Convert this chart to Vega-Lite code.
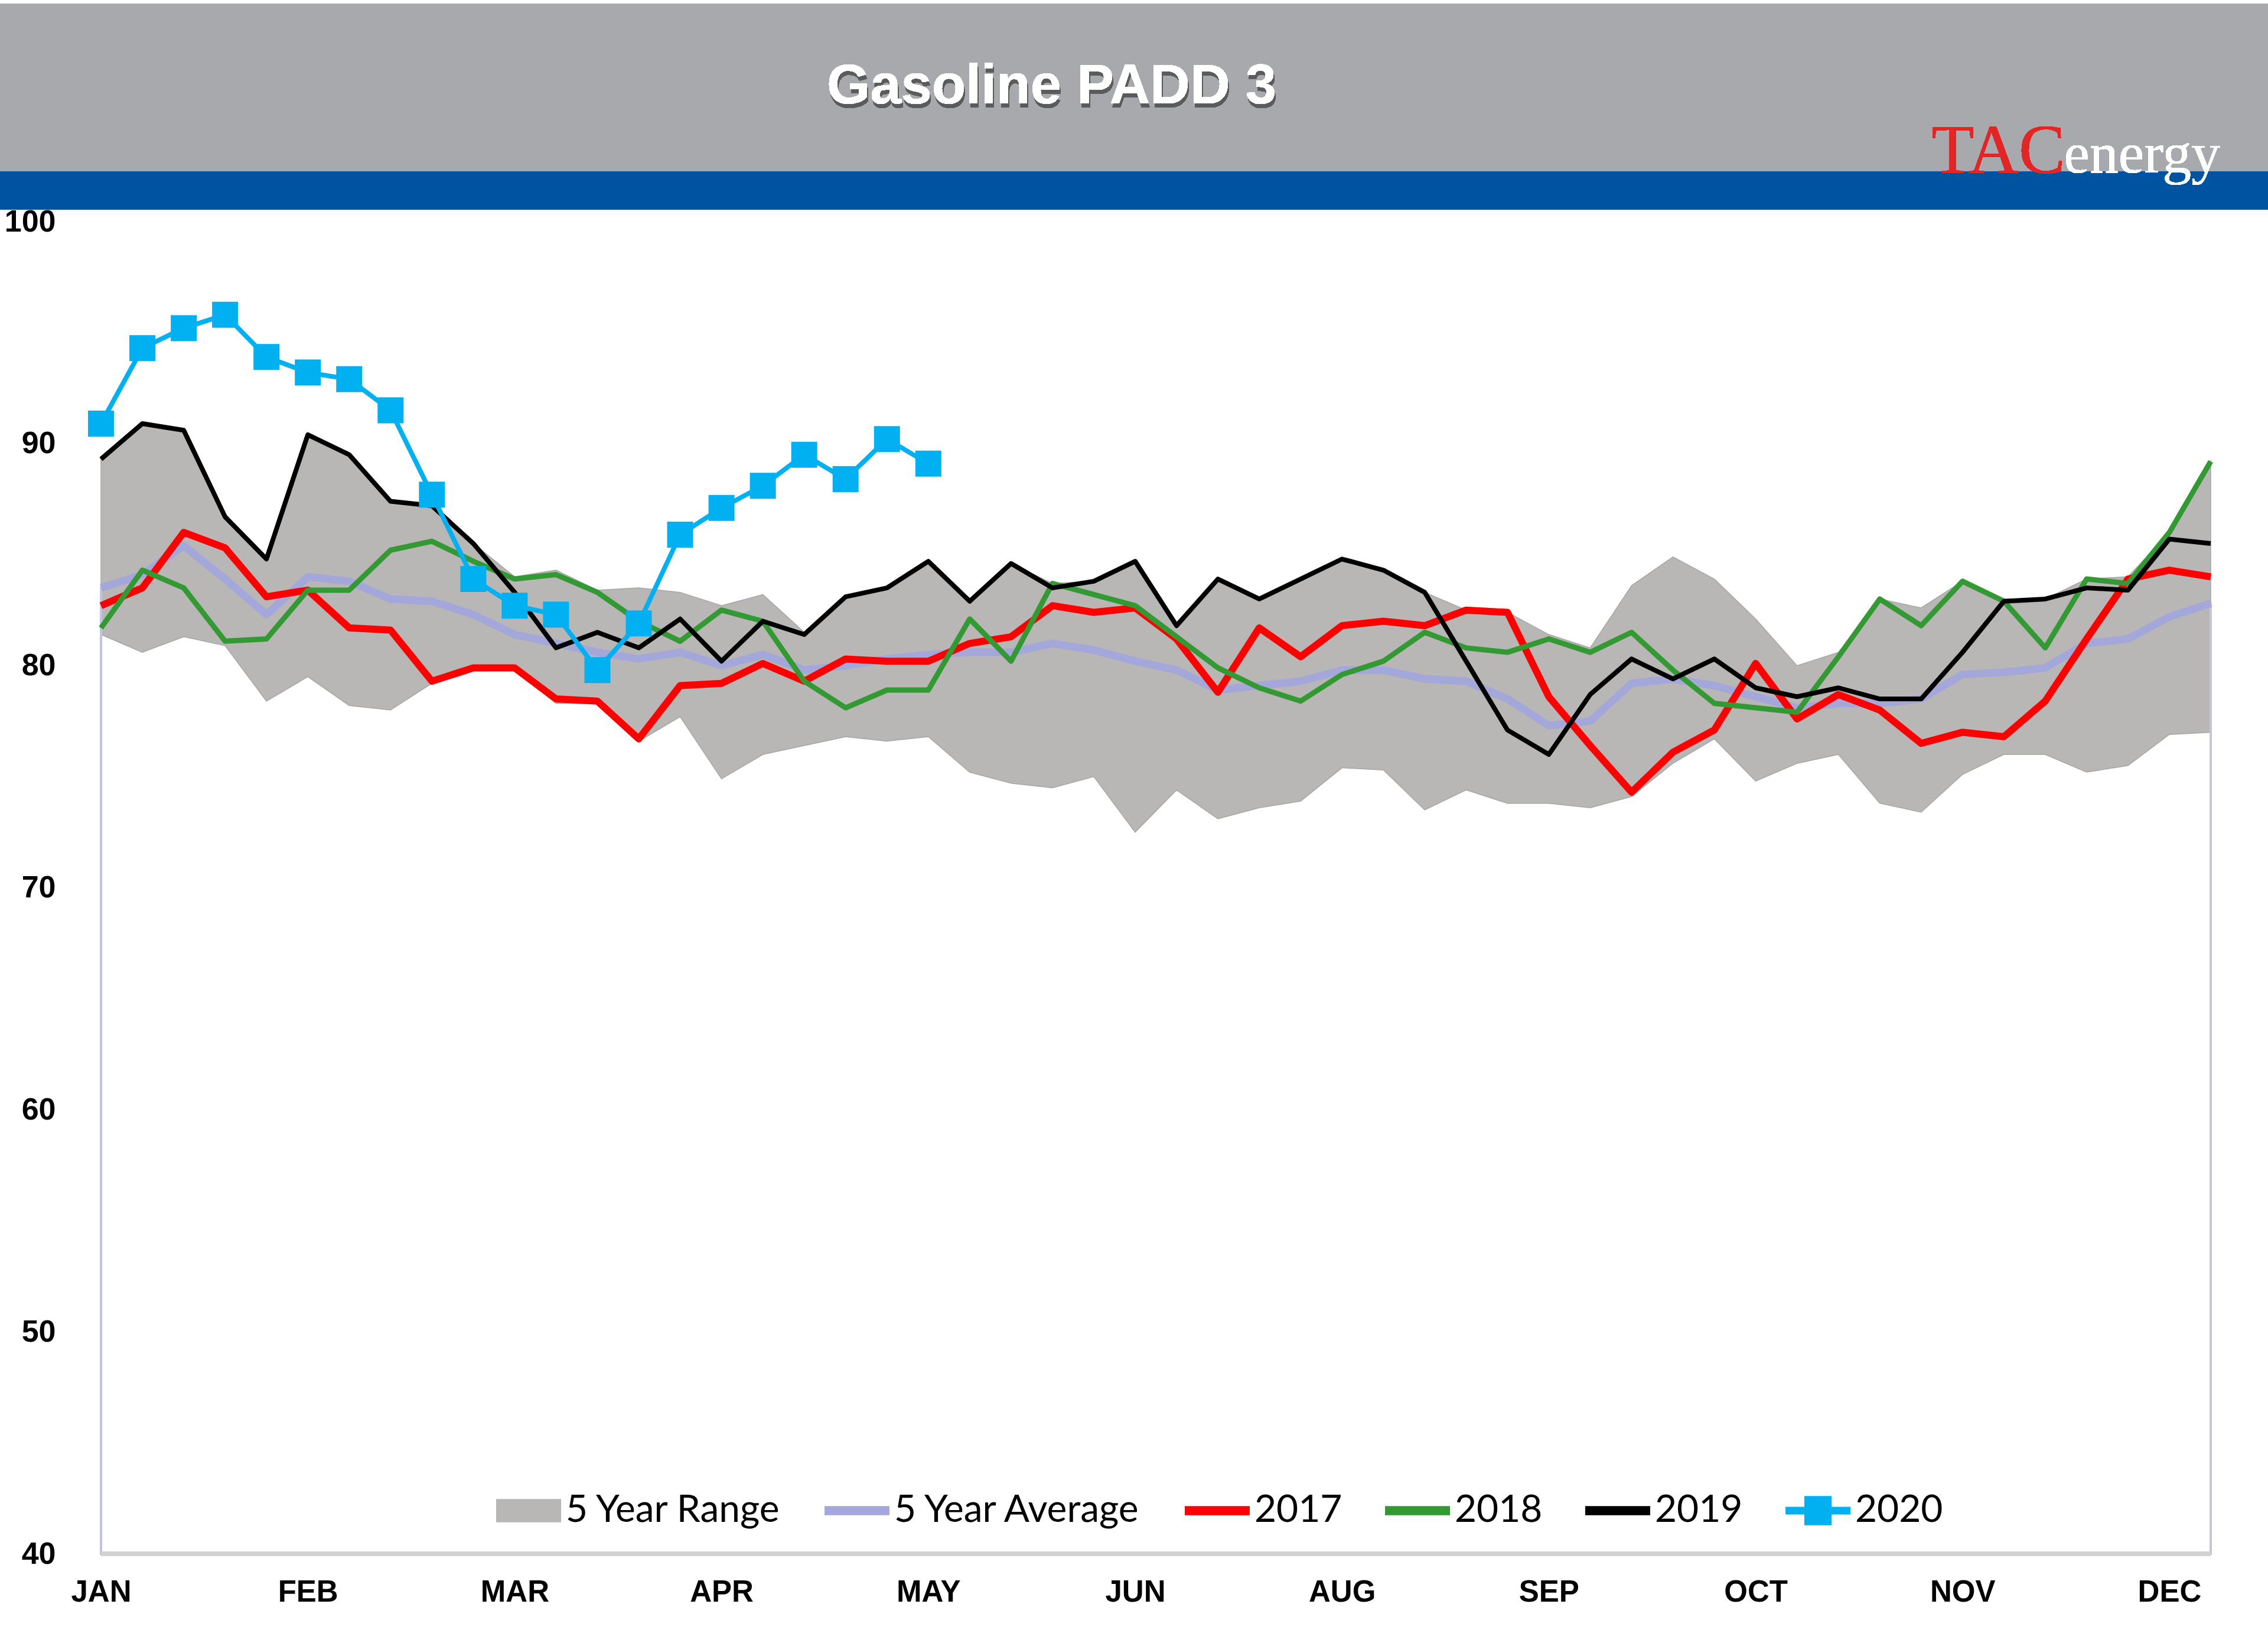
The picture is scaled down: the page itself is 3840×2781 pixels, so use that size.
{
  "$schema": "https://vega.github.io/schema/vega-lite/v6.json",
  "autosize": {"type": "none"},
  "width": 3572,
  "height": 2255,
  "padding": {"left": 171, "top": 375, "right": 97, "bottom": 151},
  "background": "white",
  "config": {"view": {"stroke": null}},
  "data": {"values": [
    {"week": 1, "low": 81.4, "high": 89.3, "avg": 83.5, "y2017": 82.7, "y2018": 81.7, "y2019": 89.3, "y2020": 90.9},
    {"week": 2, "low": 80.6, "high": 90.9, "avg": 84.1, "y2017": 83.5, "y2018": 84.3, "y2019": 90.9, "y2020": 94.3},
    {"week": 3, "low": 81.3, "high": 90.6, "avg": 85.4, "y2017": 86.0, "y2018": 83.5, "y2019": 90.6, "y2020": 95.2},
    {"week": 4, "low": 80.9, "high": 86.7, "avg": 83.9, "y2017": 85.3, "y2018": 81.1, "y2019": 86.7, "y2020": 95.8},
    {"week": 5, "low": 78.4, "high": 84.8, "avg": 82.3, "y2017": 83.1, "y2018": 81.2, "y2019": 84.8, "y2020": 93.9},
    {"week": 6, "low": 79.5, "high": 90.4, "avg": 84.0, "y2017": 83.4, "y2018": 83.4, "y2019": 90.4, "y2020": 93.2},
    {"week": 7, "low": 78.2, "high": 89.5, "avg": 83.8, "y2017": 81.7, "y2018": 83.4, "y2019": 89.5, "y2020": 92.9},
    {"week": 8, "low": 78.0, "high": 87.4, "avg": 83.0, "y2017": 81.6, "y2018": 85.2, "y2019": 87.4, "y2020": 91.5},
    {"week": 9, "low": 79.2, "high": 87.2, "avg": 82.9, "y2017": 79.3, "y2018": 85.6, "y2019": 87.2, "y2020": 87.7},
    {"week": 10, "low": 79.8, "high": 85.5, "avg": 82.3, "y2017": 79.9, "y2018": 84.7, "y2019": 85.5, "y2020": 83.9},
    {"week": 11, "low": 79.8, "high": 84.0, "avg": 81.4, "y2017": 79.9, "y2018": 83.9, "y2019": 83.3, "y2020": 82.7},
    {"week": 12, "low": 78.3, "high": 84.3, "avg": 81.0, "y2017": 78.5, "y2018": 84.1, "y2019": 80.8, "y2020": 82.3},
    {"week": 13, "low": 78.3, "high": 83.4, "avg": 80.6, "y2017": 78.4, "y2018": 83.3, "y2019": 81.5, "y2020": 79.8},
    {"week": 14, "low": 76.6, "high": 83.5, "avg": 80.3, "y2017": 76.7, "y2018": 82.0, "y2019": 80.8, "y2020": 81.9},
    {"week": 15, "low": 77.7, "high": 83.3, "avg": 80.6, "y2017": 79.1, "y2018": 81.1, "y2019": 82.1, "y2020": 85.9},
    {"week": 16, "low": 74.9, "high": 82.7, "avg": 80.0, "y2017": 79.2, "y2018": 82.5, "y2019": 80.2, "y2020": 87.1},
    {"week": 17, "low": 76.0, "high": 83.2, "avg": 80.5, "y2017": 80.1, "y2018": 82.0, "y2019": 82.0, "y2020": 88.1},
    {"week": 18, "low": 76.4, "high": 81.5, "avg": 79.8, "y2017": 79.3, "y2018": 79.3, "y2019": 81.4, "y2020": 89.5},
    {"week": 19, "low": 76.8, "high": 83.1, "avg": 80.0, "y2017": 80.3, "y2018": 78.1, "y2019": 83.1, "y2020": 88.4},
    {"week": 20, "low": 76.6, "high": 83.5, "avg": 80.3, "y2017": 80.2, "y2018": 78.9, "y2019": 83.5, "y2020": 90.2},
    {"week": 21, "low": 76.8, "high": 84.7, "avg": 80.5, "y2017": 80.2, "y2018": 78.9, "y2019": 84.7, "y2020": 89.1},
    {"week": 22, "low": 75.2, "high": 82.9, "avg": 80.6, "y2017": 81.0, "y2018": 82.1, "y2019": 82.9, "y2020": null},
    {"week": 23, "low": 74.7, "high": 84.6, "avg": 80.6, "y2017": 81.3, "y2018": 80.2, "y2019": 84.6, "y2020": null},
    {"week": 24, "low": 74.5, "high": 83.7, "avg": 81.0, "y2017": 82.7, "y2018": 83.7, "y2019": 83.5, "y2020": null},
    {"week": 25, "low": 75.0, "high": 83.8, "avg": 80.7, "y2017": 82.4, "y2018": 83.2, "y2019": 83.8, "y2020": null},
    {"week": 26, "low": 72.5, "high": 84.7, "avg": 80.2, "y2017": 82.6, "y2018": 82.7, "y2019": 84.7, "y2020": null},
    {"week": 27, "low": 74.4, "high": 81.8, "avg": 79.8, "y2017": 81.2, "y2018": 81.3, "y2019": 81.8, "y2020": null},
    {"week": 28, "low": 73.1, "high": 83.9, "avg": 78.9, "y2017": 78.8, "y2018": 79.9, "y2019": 83.9, "y2020": null},
    {"week": 29, "low": 73.6, "high": 83.0, "avg": 79.1, "y2017": 81.7, "y2018": 79.0, "y2019": 83.0, "y2020": null},
    {"week": 30, "low": 73.9, "high": 83.9, "avg": 79.3, "y2017": 80.4, "y2018": 78.4, "y2019": 83.9, "y2020": null},
    {"week": 31, "low": 75.4, "high": 84.8, "avg": 79.8, "y2017": 81.8, "y2018": 79.6, "y2019": 84.8, "y2020": null},
    {"week": 32, "low": 75.3, "high": 84.3, "avg": 79.8, "y2017": 82.0, "y2018": 80.2, "y2019": 84.3, "y2020": null},
    {"week": 33, "low": 73.5, "high": 83.3, "avg": 79.4, "y2017": 81.8, "y2018": 81.5, "y2019": 83.3, "y2020": null},
    {"week": 34, "low": 74.4, "high": 82.5, "avg": 79.3, "y2017": 82.5, "y2018": 80.8, "y2019": 80.2, "y2020": null},
    {"week": 35, "low": 73.8, "high": 82.4, "avg": 78.5, "y2017": 82.4, "y2018": 80.6, "y2019": 77.1, "y2020": null},
    {"week": 36, "low": 73.8, "high": 81.4, "avg": 77.3, "y2017": 78.6, "y2018": 81.2, "y2019": 76.0, "y2020": null},
    {"week": 37, "low": 73.6, "high": 80.8, "avg": 77.5, "y2017": 76.4, "y2018": 80.6, "y2019": 78.7, "y2020": null},
    {"week": 38, "low": 74.1, "high": 83.6, "avg": 79.2, "y2017": 74.3, "y2018": 81.5, "y2019": 80.3, "y2020": null},
    {"week": 39, "low": 75.6, "high": 84.9, "avg": 79.4, "y2017": 76.1, "y2018": 79.8, "y2019": 79.4, "y2020": null},
    {"week": 40, "low": 76.7, "high": 83.9, "avg": 79.1, "y2017": 77.1, "y2018": 78.3, "y2019": 80.3, "y2020": null},
    {"week": 41, "low": 74.8, "high": 82.1, "avg": 78.6, "y2017": 80.1, "y2018": 78.1, "y2019": 79.0, "y2020": null},
    {"week": 42, "low": 75.6, "high": 80.0, "avg": 78.1, "y2017": 77.6, "y2018": 77.9, "y2019": 78.6, "y2020": null},
    {"week": 43, "low": 76.0, "high": 80.6, "avg": 78.3, "y2017": 78.7, "y2018": 80.4, "y2019": 79.0, "y2020": null},
    {"week": 44, "low": 73.8, "high": 83.0, "avg": 78.3, "y2017": 78.0, "y2018": 83.0, "y2019": 78.5, "y2020": null},
    {"week": 45, "low": 73.4, "high": 82.6, "avg": 78.5, "y2017": 76.5, "y2018": 81.8, "y2019": 78.5, "y2020": null},
    {"week": 46, "low": 75.1, "high": 83.8, "avg": 79.6, "y2017": 77.0, "y2018": 83.8, "y2019": 80.6, "y2020": null},
    {"week": 47, "low": 76.0, "high": 83.0, "avg": 79.7, "y2017": 76.8, "y2018": 82.9, "y2019": 82.9, "y2020": null},
    {"week": 48, "low": 76.0, "high": 83.0, "avg": 79.9, "y2017": 78.4, "y2018": 80.8, "y2019": 83.0, "y2020": null},
    {"week": 49, "low": 75.2, "high": 83.9, "avg": 81.0, "y2017": 81.2, "y2018": 83.9, "y2019": 83.5, "y2020": null},
    {"week": 50, "low": 75.5, "high": 84.0, "avg": 81.2, "y2017": 83.9, "y2018": 83.7, "y2019": 83.4, "y2020": null},
    {"week": 51, "low": 76.9, "high": 86.0, "avg": 82.2, "y2017": 84.3, "y2018": 86.0, "y2019": 85.7, "y2020": null},
    {"week": 52, "low": 77.0, "high": 89.2, "avg": 82.8, "y2017": 84.0, "y2018": 89.2, "y2019": 85.5, "y2020": null}
  ]},
  "encoding": {
    "x": {
      "field": "week", "type": "quantitative",
      "scale": {"domain": [1, 52], "nice": false, "zero": false},
      "axis": {
        "title": null, "grid": false, "ticks": false, "domain": false,
        "values": [1, 6, 11, 16, 21, 26, 31, 36, 41, 46, 51],
        "labelExpr": "['JAN','FEB','MAR','APR','MAY','JUN','AUG','SEP','OCT','NOV','DEC'][round((datum.value-1)/5)]",
        "labelFont": "Liberation Sans", "labelFontSize": 51, "labelFontWeight": "bold", "labelColor": "#000000",
        "labelPadding": 40, "labelOverlap": false, "labelFlush": false, "labelBaseline": "top"
      }
    },
    "y": {
      "type": "quantitative",
      "scale": {"domain": [40, 100], "nice": false, "zero": false},
      "axis": {
        "title": null, "grid": false, "ticks": false, "domain": false,
        "values": [40, 50, 60, 70, 80, 90, 100],
        "labelFont": "Liberation Sans", "labelFontSize": 52, "labelFontWeight": "bold", "labelColor": "#000000",
        "labelPadding": 77, "labelOverlap": false, "labelFlush": false
      }
    }
  },
  "layer": [
    {
      "mark": {"type": "rect", "color": "#A7A9AC"},
      "encoding": {
        "x": {"datum": -1.5}, "x2": {"datum": 53.5},
        "y": {"datum": 109.82}, "y2": {"datum": 102.26}
      }
    },
    {
      "mark": {"type": "rect", "color": "#0053A0"},
      "encoding": {
        "x": {"datum": -1.5}, "x2": {"datum": 53.5},
        "y": {"datum": 102.26}, "y2": {"datum": 100.53}
      }
    },
    {
      "mark": {"type": "text", "font": "Liberation Sans", "fontSize": 94, "fontWeight": "bold", "letterSpacing": 7, "color": "#5a5b5d", "opacity": 0.4, "align": "center", "baseline": "middle", "dx": 2, "dy": 7},
      "encoding": {"x": {"datum": 23.98}, "y": {"datum": 106.07}, "text": {"value": "Gasoline PADD 3"}}
    },
    {
      "mark": {"type": "text", "font": "Liberation Sans", "fontSize": 94, "fontWeight": "bold", "letterSpacing": 7, "color": "#FFFFFF", "align": "center", "baseline": "middle"},
      "encoding": {"x": {"datum": 23.98}, "y": {"datum": 106.07}, "text": {"value": "Gasoline PADD 3"}}
    },
    {
      "mark": {"type": "text", "font": "Liberation Serif", "fontSize": 118, "color": "#E32526", "align": "left", "baseline": "alphabetic", "letterSpacing": -14},
      "encoding": {"x": {"datum": 45.25}, "y": {"datum": 102.18}, "text": {"value": "TAC"}}
    },
    {
      "mark": {"type": "text", "font": "Liberation Serif", "fontSize": 98, "color": "#FFFFFF", "align": "left", "baseline": "alphabetic", "letterSpacing": -3},
      "encoding": {"x": {"datum": 48.45}, "y": {"datum": 102.21}, "text": {"value": "energy"}}
    },
    {
      "mark": {"type": "area", "color": "#B9B6B6", "stroke": "#A8A5A5", "strokeWidth": 1.5},
      "encoding": {"y": {"field": "high"}, "y2": {"field": "low"}}
    },
    {
      "mark": {"type": "area", "fill": "transparent", "stroke": "#C3C4E2", "strokeWidth": 4},
      "encoding": {"y": {"field": "avg"}, "y2": {"datum": 40}}
    },
    {
      "mark": {"type": "rule", "color": "#D2D2D2", "strokeWidth": 7},
      "encoding": {"x": {"datum": 1}, "x2": {"datum": 52}, "y": {"datum": 40}}
    },
    {
      "mark": {"type": "line", "strokeWidth": 13, "strokeJoin": "round", "color": "#A4A7DA"},
      "encoding": {"y": {"field": "avg"}}
    },
    {
      "mark": {"type": "line", "strokeWidth": 12, "strokeJoin": "round", "color": "#FF0000"},
      "encoding": {"y": {"field": "y2017"}}
    },
    {
      "mark": {"type": "line", "strokeWidth": 9, "strokeJoin": "round", "color": "#339933"},
      "encoding": {"y": {"field": "y2018"}}
    },
    {
      "mark": {"type": "line", "strokeWidth": 8, "strokeJoin": "round", "color": "#000000"},
      "encoding": {"y": {"field": "y2019"}}
    },
    {
      "mark": {"type": "line", "strokeWidth": 8, "strokeJoin": "round", "color": "#00B0F0"},
      "encoding": {"y": {"field": "y2020"}}
    },
    {
      "mark": {"type": "point", "shape": "square", "filled": true, "size": 1936, "opacity": 1, "color": "#00B0F0"},
      "encoding": {"y": {"field": "y2020"}}
    },
    {
      "transform": [{"filter": "false"}],
      "mark": {"type": "point", "filled": true, "opacity": 1},
      "encoding": {
        "y": {"field": "avg"},
        "color": {
          "datum": "5 Year Range", "type": "nominal",
          "scale": {
            "domain": ["5 Year Range", "5 Year Average", "2017", "2018", "2019", "2020"],
            "range": ["#B9B6B6", "#A4A7DA", "#FF0000", "#339933", "#000000", "#00B0F0"]
          },
          "legend": {
            "title": null, "orient": "none", "direction": "horizontal",
            "legendX": 669, "legendY": 2127,
            "symbolSize": 12100, "symbolStrokeWidth": 0,
            "labelFont": "Lato", "labelFontSize": 64, "labelColor": "#000000", "labelLimit": 2000,
            "labelOffset": 8, "columnPadding": 72, "padding": 0
          }
        },
        "shape": {
          "datum": "5 Year Range", "type": "nominal",
          "scale": {
            "domain": ["5 Year Range", "5 Year Average", "2017", "2018", "2019", "2020"],
            "range": ["M-1,-0.36H1V0.36H-1Z", "M-1,-0.14H1V0.14H-1Z", "M-1,-0.14H1V0.14H-1Z", "M-1,-0.14H1V0.14H-1Z", "M-1,-0.14H1V0.14H-1Z", "M-1,-0.12H1V0.12H-1Z M-0.42,-0.45H0.42V0.45H-0.42Z"]
          },
          "legend": {
            "title": null, "orient": "none", "direction": "horizontal",
            "legendX": 669, "legendY": 2127,
            "symbolSize": 12100, "symbolStrokeWidth": 0,
            "labelFont": "Lato", "labelFontSize": 64, "labelColor": "#000000", "labelLimit": 2000,
            "labelOffset": 8, "columnPadding": 72, "padding": 0
          }
        }
      }
    }
  ]
}
